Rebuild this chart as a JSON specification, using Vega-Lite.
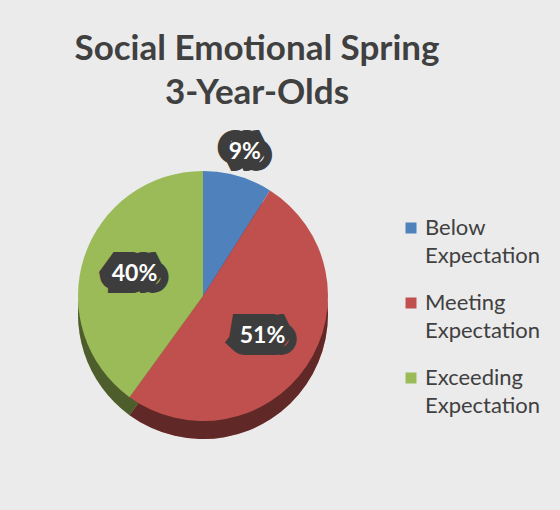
{
  "$schema": "https://vega.github.io/schema/vega-lite/v6.json",
  "width": 380,
  "height": 380,
  "autosize": "none",
  "padding": {"left": 13, "top": 106, "right": 167, "bottom": 24},
  "background": "#ebebeb",
  "config": {"view": {"stroke": null}},
  "title": {
    "text": ["Social Emotional Spring", "3-Year-Olds"],
    "anchor": "middle",
    "frame": "group",
    "dx": 54,
    "dy": 5,
    "offset": 0,
    "font": "Lato",
    "fontSize": 35,
    "fontWeight": "bold",
    "lineHeight": 44,
    "color": "#404040"
  },
  "data": {
    "values": [
      {"category": "Below Expectation", "value": 0.09, "rank": 1},
      {"category": "Meeting Expectation", "value": 0.51, "rank": 2},
      {"category": "Exceeding Expectation", "value": 0.40, "rank": 3}
    ]
  },
  "encoding": {
    "theta": {"field": "value", "type": "quantitative", "stack": true},
    "order": {"field": "rank", "type": "quantitative"},
    "color": {
      "field": "category",
      "type": "nominal",
      "scale": {
        "domain": ["Below Expectation", "Meeting Expectation", "Exceeding Expectation"],
        "range": ["#4F81BD", "#C0504D", "#9BBB59"]
      },
      "legend": {
        "title": null,
        "orient": "none",
        "legendX": 387,
        "legendY": 111,
        "symbolType": "square",
        "symbolSize": 121,
        "symbolStrokeWidth": 0,
        "labelFont": "Lato",
        "labelFontSize": 22,
        "labelColor": "#404040",
        "labelExpr": "split(datum.label, ' ')",
        "labelBaseline": "top",
        "labelOffset": 3,
        "rowPadding": 25,
        "labelLimit": 200,
        "encoding": {"labels": {"lineHeight": {"value": 28}, "dy": {"value": -10}}}
      }
    }
  },
  "layer": [
    {
      "mark": {"type": "arc", "outerRadius": 125, "yOffset": 18}
    },
    {
      "mark": {"type": "arc", "outerRadius": 125, "yOffset": 18, "fill": "#000000", "fillOpacity": 0.5}
    },
    {
      "mark": {"type": "arc", "outerRadius": 125}
    },
    {
      "mark": {"type": "text", "radius": 72, "font": "Lato", "fontSize": 23, "fontWeight": "bold", "fill": "#3d3d3d", "stroke": "#3d3d3d", "strokeWidth": 24, "strokeJoin": "miter", "strokeMiterLimit": 2},
      "encoding": {
        "text": {"condition": {"test": "datum.value < 0.2", "value": ""}, "field": "value", "type": "quantitative", "format": ".0%"},
        "color": {"value": "#3d3d3d"}
      }
    },
    {
      "mark": {"type": "text", "radius": 150, "font": "Lato", "fontSize": 23, "fontWeight": "bold", "fill": "#3d3d3d", "stroke": "#3d3d3d", "strokeWidth": 24, "strokeJoin": "miter", "strokeMiterLimit": 2},
      "encoding": {
        "text": {"condition": {"test": "datum.value >= 0.2", "value": ""}, "field": "value", "type": "quantitative", "format": ".0%"},
        "color": {"value": "#3d3d3d"}
      }
    },
    {
      "mark": {"type": "text", "radius": 72, "font": "Lato", "fontSize": 23, "fontWeight": "bold"},
      "encoding": {
        "text": {"condition": {"test": "datum.value < 0.2", "value": ""}, "field": "value", "type": "quantitative", "format": ".0%"},
        "color": {"value": "#ffffff"}
      }
    },
    {
      "mark": {"type": "text", "radius": 150, "font": "Lato", "fontSize": 23, "fontWeight": "bold"},
      "encoding": {
        "text": {"condition": {"test": "datum.value >= 0.2", "value": ""}, "field": "value", "type": "quantitative", "format": ".0%"},
        "color": {"value": "#ffffff"}
      }
    }
  ]
}
